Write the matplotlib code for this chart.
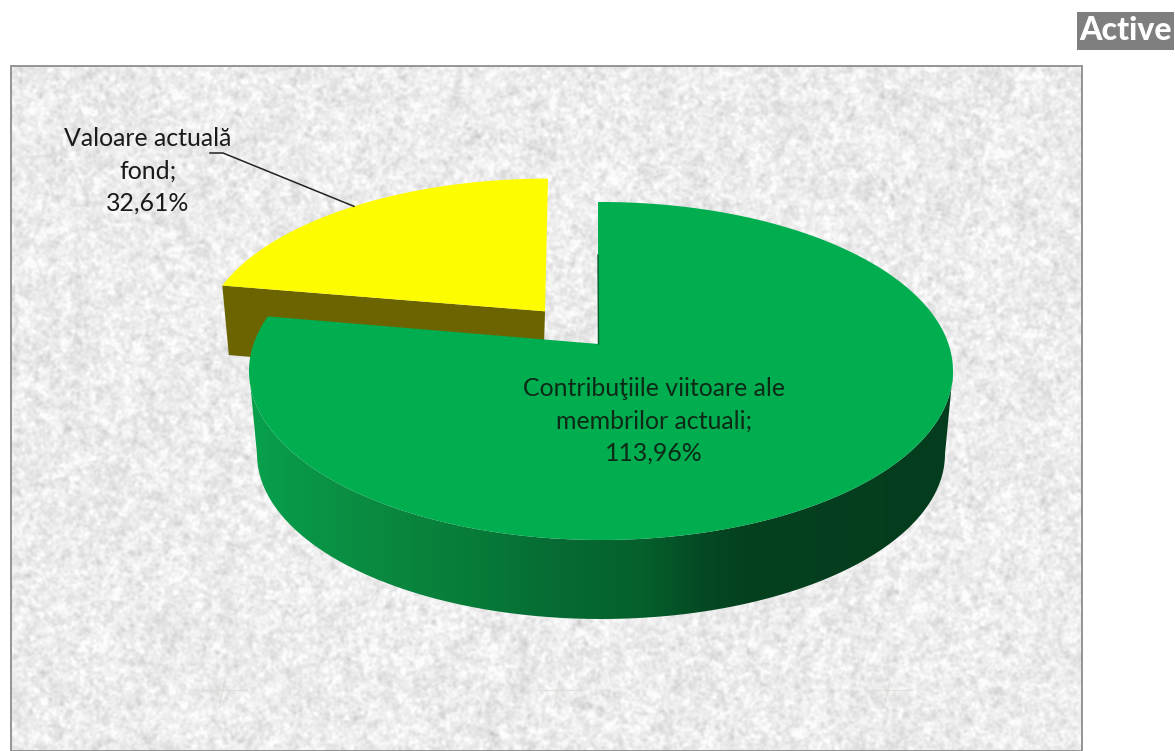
"""Exploded 3D-look pie of the fund's assets, drawn in pixel coordinates."""
import matplotlib

matplotlib.use("Agg")
import matplotlib.pyplot as plt
import numpy as np
from matplotlib.colors import LinearSegmentedColormap
from matplotlib.patches import Polygon, Rectangle

plt.rcParams["font.family"] = ["Lato", "DejaVu Sans"]

TITLE = "Active"
LABELS = ["Contribuţiile viitoare ale\nmembrilor actuali;", "Valoare actuală\nfond;"]
VALUES = [113.96, 32.61]

W, H = 1175, 751
TILT = 0.16  # shifts the pie centre up inside the rim ellipse


def project(theta, cx, cy, rx, ry, lean=0.0):
    """Map clockwise-from-top angle on the disc to a point of the tilted rim."""
    den = 1 + TILT * np.cos(theta)
    xp = np.sin(theta) * np.sqrt(1 - TILT ** 2) / den
    yp = (np.cos(theta) + TILT) / den
    return cx + rx * xp + lean * yp, cy - ry * yp


def marble(h, w):
    # mottled paper texture, not data
    rng = np.random.default_rng(7)
    fy = np.fft.fftfreq(h)[:, None]
    fx = np.fft.fftfreq(w)[None, :]
    out = np.zeros((h, w))
    for sigma, weight in [(1.3, 1.0), (2.8, 0.8), (12.0, 0.2)]:
        noise = rng.normal(size=(h, w))
        kernel = np.exp(-2 * (np.pi * sigma) ** 2 * (fx ** 2 + fy ** 2))
        layer = np.fft.ifft2(np.fft.fft2(noise) * kernel).real
        out += weight * layer / layer.std()
    out = out / out.std()
    return np.clip(0.925 + 0.03 * out, 0.76, 0.985)


fig = plt.figure(figsize=(W / 100, H / 100), dpi=100)
ax = fig.add_axes([0, 0, 1, 1])
ax.axis("off")

# chart area
ax.imshow(marble(H - 66, 1071), cmap="gray", vmin=0, vmax=1, aspect="auto",
          extent=(11, 1082, H, 66), zorder=0)
ax.add_patch(Rectangle((11, 66), 1071, H - 66, fill=False, ec="#8c8c8c", lw=1.3, zorder=1))

# faint watermark crosses near the bottom
for mx in (225, 560, 890):
    ax.plot([mx - 22, mx + 22], [690, 690], color="#d9d6cc", lw=1, alpha=0.6, zorder=1)
    ax.plot([mx, mx - 6], [680, 708], color="#d9d6cc", lw=1, alpha=0.6, zorder=1)

sweep = 2 * np.pi * np.array(VALUES) / sum(VALUES)
green_end = sweep[0]

# yellow slice, pulled out towards the upper left
Y = dict(cx=545, cy=336.6, rx=342, ry=158, lean=3)
th = np.linspace(green_end, 2 * np.pi, 120)
rx_, ry_ = project(th, **Y)
apex_x, apex_y = Y["cx"], Y["cy"] - TILT * Y["ry"]
left_x, left_y = rx_[0], ry_[0]
ax.add_patch(Polygon([(left_x, left_y), (apex_x, apex_y), (apex_x - 2, apex_y + 70),
                      (left_x + 6.5, left_y + 69.5)], fc="#6b6400", ec="none", zorder=2))
ax.add_patch(Polygon(np.c_[np.r_[rx_, apex_x], np.r_[ry_, apex_y]], fc="#fdfc00",
                     ec="none", zorder=3))

# green slice: side wall first, then top face
G = dict(cx=601, cy=371, rx=352, ry=169)
B = dict(cx=601, cy=454, rx=344, ry=165)
phi = np.linspace(-np.pi / 2, np.pi / 2, 200)
wall = np.r_[np.c_[G["cx"] + G["rx"] * np.sin(phi), G["cy"] + G["ry"] * np.cos(phi)],
             np.c_[B["cx"] + B["rx"] * np.sin(phi[::-1]), B["cy"] + B["ry"] * np.cos(phi[::-1])]]
clip = Polygon(wall, fc="none", ec="none", zorder=4)
ax.add_patch(clip)
wall_cmap = LinearSegmentedColormap.from_list(
    "wall", [(0.0, "#08a04c"), (0.17, "#0a8a40"), (0.33, "#077a38"),
             (0.43, "#066c33"), (0.56, "#05602c"), (0.64, "#044a24"),
             (0.71, "#04401f"), (1.0, "#043d1d")])
grad = ax.imshow(np.linspace(0, 1, 400)[None, :], cmap=wall_cmap, aspect="auto",
                 extent=(250, 953, 640, 360), zorder=4)
grad.set_clip_path(clip)

th = np.linspace(0, green_end, 400)
gx, gy = project(th, **G)
gapex = (598, G["cy"] - TILT * G["ry"])
# the cut edge stands a little left of the rim's top point
ax.add_patch(Polygon(np.c_[np.r_[gx[0] - 3, gx, gapex[0]], np.r_[gy[0], gy, gapex[1]]],
                     fc="#00ae50", ec="none", zorder=5))
ax.plot([598, 598.5], [255, gapex[1]], color="#0a5a30", lw=1.0, zorder=6)

# labels
fs = 17.9
ax.text(654, 421, f"{LABELS[0]}\n{VALUES[0]:.2f}%".replace(".", ","), ha="center", va="center",
        fontsize=fs, color="#0c2a16", linespacing=1.5, zorder=6)
ax.text(148, 171, f"{LABELS[1]}\n{VALUES[1]:.2f}%".replace(".", ","), ha="center", va="center",
        fontsize=fs, color="#1a1a1a", linespacing=1.5, zorder=6)

# leader runs to the middle of the yellow rim
lx, ly = project(green_end + sweep[1] / 2, **Y)
ax.plot([210, 223, lx], [153, 153, ly], color="#222222", lw=1.1, zorder=6)

# title tag
ax.add_patch(Rectangle((1077, 12), 97, 38, fc="#7f7f7f", ec="none", zorder=6))
ax.text(1125.5, 30, TITLE, ha="center", va="center", fontsize=23, fontweight=900,
        color="white", zorder=7)

ax.set_xlim(0, W)
ax.set_ylim(H, 0)
fig.savefig("out.png", dpi=100, facecolor="white")
